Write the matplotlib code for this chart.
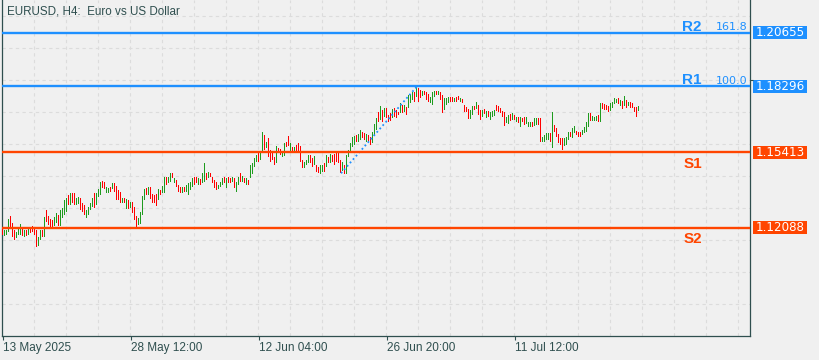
import numpy as np
import matplotlib.pyplot as plt
from matplotlib.patches import Rectangle
from matplotlib.transforms import blended_transform_factory

# EURUSD H4 bars (bar 0 = 13 May 2025)
opens = [
    1.1206, 1.1171, 1.1175, 1.1188, 1.1259, 1.1228, 1.1197, 1.1162, 1.1179, 1.1175,
    1.1210, 1.1166, 1.1197, 1.1175, 1.1210, 1.1215, 1.1210, 1.1197, 1.1127, 1.1157,
    1.1197, 1.1166, 1.1285, 1.1259, 1.1245, 1.1241, 1.1215, 1.1228, 1.1263, 1.1215,
    1.1250, 1.1263, 1.1276, 1.1351, 1.1307, 1.1360, 1.1360, 1.1307, 1.1311, 1.1338,
    1.1316, 1.1307, 1.1250, 1.1263, 1.1285, 1.1298, 1.1360, 1.1307, 1.1342, 1.1351,
    1.1413, 1.1408, 1.1360, 1.1360, 1.1386, 1.1377, 1.1404, 1.1391, 1.1373, 1.1364,
    1.1316, 1.1338, 1.1289, 1.1329, 1.1294, 1.1320, 1.1298, 1.1259, 1.1219, 1.1223,
    1.1263, 1.1329, 1.1382, 1.1351, 1.1386, 1.1355, 1.1351, 1.1355, 1.1329, 1.1373,
    1.1360, 1.1360, 1.1430, 1.1404, 1.1408, 1.1448, 1.1404, 1.1417, 1.1395, 1.1386,
    1.1360, 1.1386, 1.1364, 1.1351, 1.1373, 1.1386, 1.1430, 1.1430, 1.1395, 1.1421,
    1.1404, 1.1408, 1.1448, 1.1426, 1.1448, 1.1430, 1.1417, 1.1408, 1.1377, 1.1386,
    1.1395, 1.1430, 1.1382, 1.1430, 1.1426, 1.1408, 1.1426, 1.1364, 1.1395, 1.1448,
    1.1408, 1.1426, 1.1395, 1.1417, 1.1426, 1.1443, 1.1474, 1.1496, 1.1536, 1.1505,
    1.1536, 1.1615, 1.1558, 1.1602, 1.1549, 1.1536, 1.1518, 1.1492, 1.1558, 1.1553,
    1.1518, 1.1523, 1.1584, 1.1611, 1.1540, 1.1562, 1.1540, 1.1571, 1.1580, 1.1567,
    1.1505, 1.1470, 1.1483, 1.1492, 1.1527, 1.1514, 1.1483, 1.1483, 1.1474, 1.1443,
    1.1452, 1.1492, 1.1474, 1.1518, 1.1492, 1.1527, 1.1531, 1.1536, 1.1536, 1.1505,
    1.1457, 1.1483, 1.1443, 1.1518, 1.1540, 1.1562, 1.1571, 1.1615, 1.1584, 1.1593,
    1.1628, 1.1624, 1.1584, 1.1615, 1.1606, 1.1580, 1.1615, 1.1637, 1.1716, 1.1681,
    1.1725, 1.1694, 1.1734, 1.1703, 1.1712, 1.1690, 1.1734, 1.1725, 1.1716, 1.1712,
    1.1747, 1.1716, 1.1738, 1.1734, 1.1756, 1.1769, 1.1804, 1.1782, 1.1822, 1.1813,
    1.1787, 1.1809, 1.1804, 1.1795, 1.1756, 1.1747, 1.1782, 1.1809, 1.1791, 1.1804,
    1.1791, 1.1725, 1.1747, 1.1756, 1.1782, 1.1782, 1.1760, 1.1782, 1.1787, 1.1760,
    1.1773, 1.1747, 1.1738, 1.1729, 1.1685, 1.1703, 1.1743, 1.1729, 1.1747, 1.1725,
    1.1694, 1.1729, 1.1690, 1.1721, 1.1681, 1.1694, 1.1699, 1.1747, 1.1743, 1.1734,
    1.1721, 1.1716, 1.1668, 1.1663, 1.1707, 1.1681, 1.1703, 1.1672, 1.1694, 1.1650,
    1.1690, 1.1694, 1.1663, 1.1650, 1.1650, 1.1672, 1.1655, 1.1659, 1.1690, 1.1690,
    1.1584, 1.1584, 1.1593, 1.1593, 1.1624, 1.1558, 1.1659, 1.1646, 1.1619, 1.1602,
    1.1602, 1.1567, 1.1571, 1.1593, 1.1628, 1.1602, 1.1624, 1.1633, 1.1628, 1.1628,
    1.1615, 1.1624, 1.1628, 1.1650, 1.1712, 1.1677, 1.1677, 1.1677, 1.1703, 1.1672,
    1.1756, 1.1751, 1.1747, 1.1743, 1.1721, 1.1734, 1.1751, 1.1756, 1.1778, 1.1743,
    1.1765, 1.1743, 1.1769, 1.1743, 1.1760, 1.1756, 1.1738, 1.1738, 1.1721,
]
closes = [
    1.1179, 1.1197, 1.1197, 1.1245, 1.1210, 1.1166, 1.1153, 1.1188, 1.1201, 1.1223,
    1.1171, 1.1197, 1.1171, 1.1206, 1.1184, 1.1188, 1.1179, 1.1122, 1.1166, 1.1197,
    1.1166, 1.1254, 1.1232, 1.1219, 1.1210, 1.1210, 1.1254, 1.1272, 1.1215, 1.1285,
    1.1294, 1.1329, 1.1338, 1.1307, 1.1360, 1.1316, 1.1307, 1.1338, 1.1342, 1.1285,
    1.1276, 1.1263, 1.1285, 1.1298, 1.1316, 1.1338, 1.1294, 1.1360, 1.1377, 1.1408,
    1.1382, 1.1377, 1.1386, 1.1382, 1.1364, 1.1404, 1.1364, 1.1329, 1.1329, 1.1316,
    1.1338, 1.1316, 1.1333, 1.1289, 1.1320, 1.1272, 1.1241, 1.1210, 1.1250, 1.1276,
    1.1347, 1.1377, 1.1351, 1.1386, 1.1333, 1.1316, 1.1316, 1.1303, 1.1377, 1.1351,
    1.1391, 1.1430, 1.1395, 1.1430, 1.1448, 1.1426, 1.1426, 1.1386, 1.1364, 1.1360,
    1.1386, 1.1364, 1.1395, 1.1404, 1.1408, 1.1426, 1.1395, 1.1404, 1.1426, 1.1395,
    1.1448, 1.1492, 1.1417, 1.1452, 1.1430, 1.1404, 1.1382, 1.1373, 1.1395, 1.1408,
    1.1426, 1.1404, 1.1426, 1.1404, 1.1404, 1.1430, 1.1382, 1.1408, 1.1430, 1.1408,
    1.1435, 1.1404, 1.1426, 1.1395, 1.1483, 1.1492, 1.1514, 1.1527, 1.1496, 1.1536,
    1.1628, 1.1549, 1.1584, 1.1518, 1.1496, 1.1505, 1.1483, 1.1567, 1.1536, 1.1527,
    1.1545, 1.1580, 1.1562, 1.1567, 1.1580, 1.1540, 1.1562, 1.1545, 1.1540, 1.1496,
    1.1470, 1.1496, 1.1505, 1.1527, 1.1492, 1.1474, 1.1523, 1.1452, 1.1448, 1.1483,
    1.1483, 1.1452, 1.1527, 1.1492, 1.1531, 1.1496, 1.1483, 1.1496, 1.1492, 1.1448,
    1.1496, 1.1443, 1.1527, 1.1549, 1.1580, 1.1606, 1.1611, 1.1584, 1.1619, 1.1637,
    1.1602, 1.1593, 1.1619, 1.1584, 1.1571, 1.1628, 1.1663, 1.1690, 1.1672, 1.1743,
    1.1672, 1.1734, 1.1690, 1.1672, 1.1677, 1.1729, 1.1694, 1.1690, 1.1703, 1.1756,
    1.1712, 1.1747, 1.1703, 1.1791, 1.1795, 1.1804, 1.1760, 1.1830, 1.1760, 1.1778,
    1.1809, 1.1791, 1.1769, 1.1760, 1.1782, 1.1804, 1.1809, 1.1791, 1.1809, 1.1769,
    1.1712, 1.1778, 1.1778, 1.1782, 1.1760, 1.1760, 1.1778, 1.1760, 1.1769, 1.1778,
    1.1756, 1.1716, 1.1716, 1.1685, 1.1725, 1.1743, 1.1725, 1.1760, 1.1703, 1.1681,
    1.1725, 1.1707, 1.1721, 1.1694, 1.1716, 1.1721, 1.1725, 1.1721, 1.1716, 1.1712,
    1.1694, 1.1655, 1.1694, 1.1703, 1.1677, 1.1712, 1.1681, 1.1694, 1.1668, 1.1694,
    1.1672, 1.1659, 1.1694, 1.1672, 1.1672, 1.1650, 1.1690, 1.1690, 1.1659, 1.1584,
    1.1606, 1.1615, 1.1624, 1.1624, 1.1584, 1.1716, 1.1628, 1.1606, 1.1580, 1.1571,
    1.1549, 1.1602, 1.1606, 1.1628, 1.1606, 1.1646, 1.1655, 1.1615, 1.1606, 1.1606,
    1.1637, 1.1650, 1.1672, 1.1712, 1.1677, 1.1699, 1.1694, 1.1699, 1.1672, 1.1756,
    1.1729, 1.1725, 1.1725, 1.1716, 1.1756, 1.1760, 1.1778, 1.1773, 1.1751, 1.1769,
    1.1729, 1.1787, 1.1734, 1.1760, 1.1734, 1.1734, 1.1716, 1.1694, 1.1743,
]

level_prices = [1.20655, 1.18296, 1.15413, 1.12088]
level_names = ["R2", "R1", "S1", "S2"]
level_fib = ["161.8", "100.0", "", ""]

fib_bars = [169, 207]
fib_prices = [1.14479, 1.18296]

tick_bars = [0, 64, 128, 192, 256]
tick_labels = ["13 May 2025", "28 May 12:00", "12 Jun 04:00", "26 Jun 20:00", "11 Jul 12:00"]

title = "EURUSD, H4:  Euro vs US Dollar"

BG = "#F0F0F0"
FG = "#2F4F4F"
BULL = "#1E9B1E"
BEAR = "#FF0000"
BLUE = "#1E90FF"
ORANGE = "#FF4500"

y_top, y_bot = 1.22092, 1.07331
px = (y_top - y_bot) / 336  # price per pixel

fig = plt.figure(figsize=(8.2, 3.6), dpi=100, facecolor=BG)
ax = fig.add_axes([2 / 820, 24 / 360, 748 / 820, 336 / 360])
ax.set_facecolor(BG)
ax.set_xlim(-0.5, 373.5)
ax.set_ylim(y_bot, y_top)

# grid, MT5 style (every 32 px)
for k in range(1, 24):
    ax.axvline(16 * k - 0.5, color="#DCDCDC", lw=0.8, ls=(0, (3, 3)), zorder=0)
for k in range(10):
    ax.axhline(y_top - (16 + 32 * k) * px, color="#DCDCDC", lw=0.8, ls=(0, (3, 3)), zorder=0)

# candles: 1 px wide bodies (half a bar slot)
o = np.array(opens)
c = np.array(closes)
x = np.arange(len(o))
cols = [BULL if cc >= oo else BEAR for oo, cc in zip(o, c)]
lo = np.minimum(o, c)
hi = np.maximum(o, c)
ax.bar(x, hi - lo, bottom=lo, width=0.5, color=cols, linewidth=0, zorder=3)

# fibo dotted line
ax.plot(fib_bars, fib_prices, color=BLUE, lw=1.3, ls=(0, (1, 1.5)), zorder=4)

# support / resistance lines
tr = blended_transform_factory(ax.transAxes, ax.transData)
for price, name, fib in zip(level_prices, level_names, level_fib):
    col = BLUE if name.startswith("R") else ORANGE
    ax.axhline(price, color=col, lw=1.7, zorder=5)
    if name.startswith("R"):
        ax.annotate(name, (349.5, price), xytext=(0, 1.5), textcoords="offset points",
                    ha="right", va="baseline", color=col, fontsize=11,
                    fontweight="bold", family="Liberation Sans")
        ax.annotate(fib, (372.3, price), xytext=(0, 2), textcoords="offset points",
                    ha="right", va="baseline", color=col, fontsize=8, family="DejaVu Sans")
    else:
        ax.annotate(name, (349.5, price), xytext=(0, -11.2), textcoords="offset points",
                    ha="right", va="baseline", color=col, fontsize=11,
                    fontweight="bold", family="Liberation Sans")
    ax.add_patch(Rectangle((1.004, price - 6.5 * px), 0.0722, 13 * px, transform=tr,
                           facecolor=col, edgecolor="none", clip_on=False))
    ax.text(1.0401, price, f"{price:.5f}", transform=tr, ha="center", va="center",
            color="white", fontsize=8.6, family="DejaVu Sans")

# axes frame
for s in ["left", "bottom", "right"]:
    ax.spines[s].set_color(FG)
    ax.spines[s].set_linewidth(0.9)
ax.spines["top"].set_visible(False)

ax.set_xticks(tick_bars)
ax.set_xticklabels(tick_labels, ha="left", family="Liberation Sans", fontsize=8.5, color=FG)
ax.tick_params(axis="x", direction="out", length=3, width=0.8, color=FG, pad=1.5)
ax.yaxis.tick_right()
ax.set_yticks([y_top - 80 * px])
ax.set_yticklabels([""])
ax.tick_params(axis="y", direction="out", length=2.5, width=0.8, color=FG)

ax.text(5 / 748, 1 - 12 / 336, title, transform=ax.transAxes, ha="left", va="center",
        family="Liberation Sans", fontsize=8.4, color=FG)

fig.savefig("out.png", dpi=100, facecolor=BG)
